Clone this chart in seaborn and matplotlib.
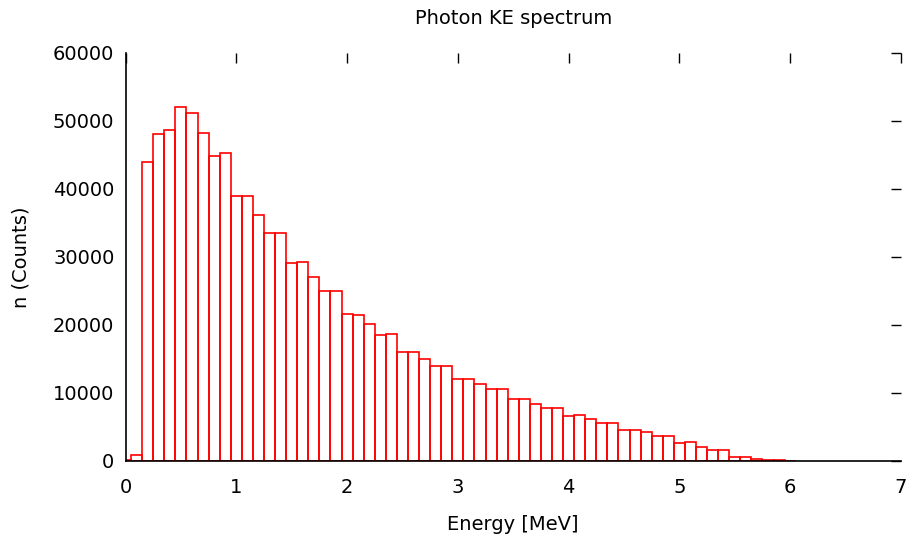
import numpy as np
import pandas as pd
import matplotlib
matplotlib.use("Agg")
import matplotlib.pyplot as plt
import seaborn as sns

# Datos del histograma (centros de bin en MeV, cuentas)
energia = np.round(np.arange(0, 6.01, 0.1), 1)
cuentas = [
    150, 900, 44000, 48000, 48600, 52000, 51200, 48200, 44900, 45200,
    39000, 39000, 36100, 33500, 33500, 29100, 29200, 27000, 25000, 25000,
    21600, 21500, 20100, 18550, 18600, 16000, 16000, 15000, 14000, 14000,
    12100, 12100, 11300, 10600, 10600, 9100, 9100, 8300, 7700, 7800,
    6600, 6700, 6100, 5600, 5550, 4600, 4600, 4200, 3650, 3650,
    2600, 2700, 2100, 1600, 1600, 500, 500, 300, 100, 100,
    0,
]
x_ticks = [0, 1, 2, 3, 4, 5, 6, 7]
y_ticks = [0, 10000, 20000, 30000, 40000, 50000, 60000]

df = pd.DataFrame({"energia": energia, "cuentas": cuentas})
bins = [round(-0.05 + 0.1 * i, 2) for i in range(62)]

sns.set_style("white")
plt.rcParams['font.family'] = ['DejaVu Sans']
plt.rcParams['text.color'] = 'black'
plt.rcParams['axes.labelcolor'] = 'black'

fig, ax = plt.subplots(figsize=(9.1, 5.39), dpi=100)
sns.histplot(data=df, x="energia", weights="cuentas", bins=bins,
             fill=False, element="bars", color="#ff0000", linewidth=1.2, ax=ax)

ax.set_xlim(0, 7)
ax.set_ylim(0, 60000)
ax.set_xticks(x_ticks)
ax.set_yticks(y_ticks)
ax.tick_params(direction="in", length=7, width=1, top=True, right=True,
               labelsize=14, colors="black")
ax.tick_params(axis="y", pad=8)
ax.tick_params(axis="x", pad=12)
for s in ["top", "right"]:
    ax.spines[s].set_visible(False)
for s in ["left", "bottom"]:
    ax.spines[s].set_color("black")
    ax.spines[s].set_linewidth(1.2)

ax.set_title("Photon KE spectrum", fontsize=14, pad=21, color="black")
ax.set_xlabel("Energy [MeV]", fontsize=14, labelpad=13)
ax.set_ylabel("n (Counts)", fontsize=14, labelpad=16)

fig.subplots_adjust(left=0.138, right=0.990, top=0.902, bottom=0.145)
fig.savefig("out.png", dpi=100)
